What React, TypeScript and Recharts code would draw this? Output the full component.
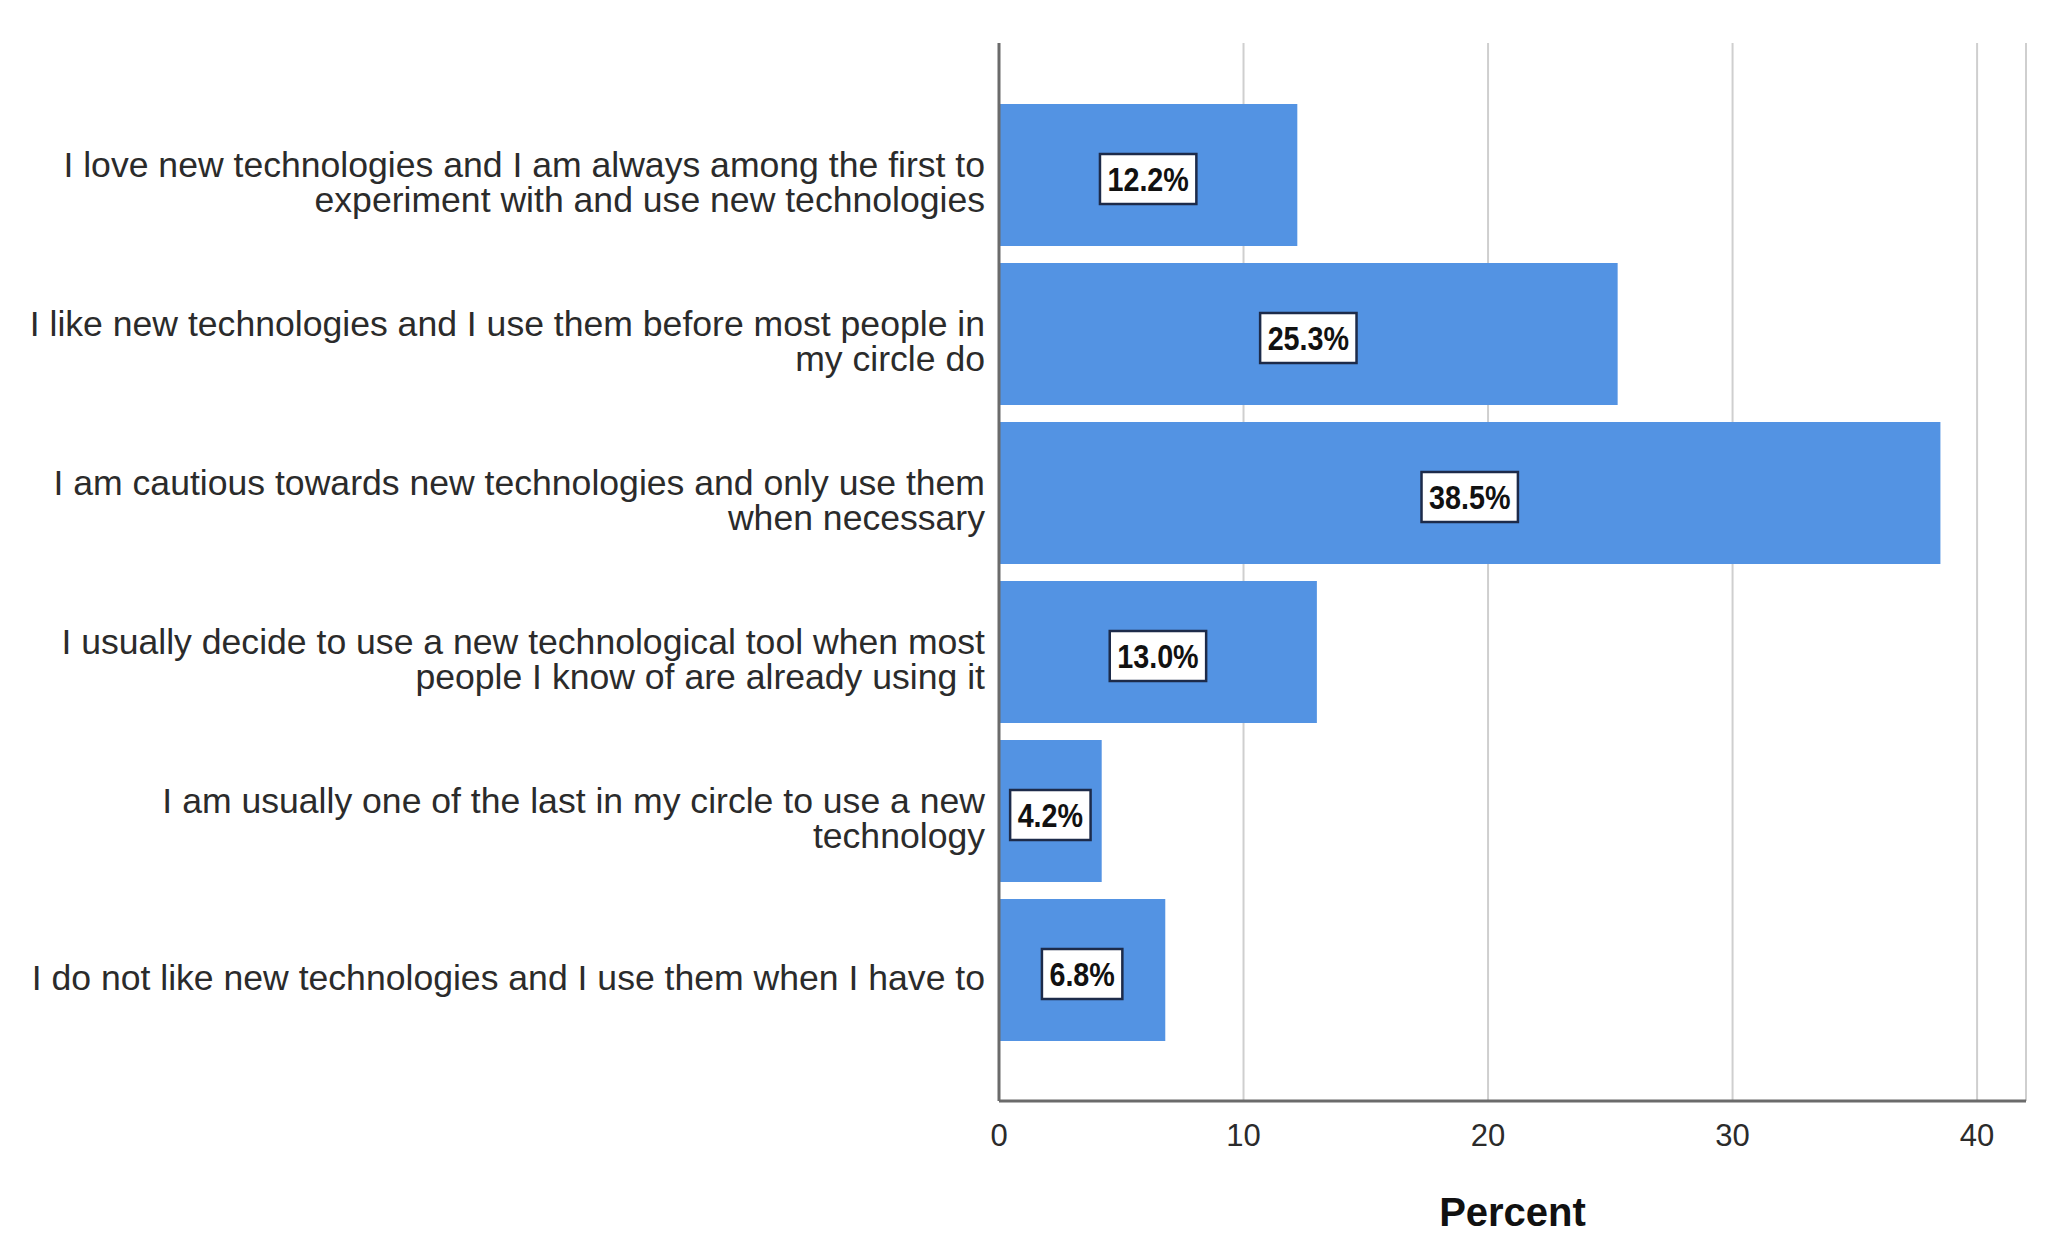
import React from 'react';
import { BarChart, Bar, XAxis, YAxis, CartesianGrid, LabelList } from 'recharts';

// categories, one "\n" per wrapped line as in the original SPSS output
const categories = [
  'I love new technologies and I am always among the first to\nexperiment with and use new technologies',
  'I like new technologies and I use them before most people in\nmy circle do',
  'I am cautious towards new technologies and only use them\nwhen necessary',
  'I usually decide to use a new technological tool when most\npeople I know of are already using it',
  'I am usually one of the last in my circle to use a new\ntechnology',
  'I do not like new technologies and I use them when I have to',
];
const percents = [12.2, 25.3, 38.5, 13.0, 4.2, 6.8];
const xTicks = [0, 10, 20, 30, 40];
const xLabel = 'Percent';

const FONT = '"Liberation Sans", Arial, sans-serif';
const BAR = '#5393E3';

if (typeof document !== 'undefined') document.body.style.margin = '0';

const data = categories.map((label, i) => ({ label, percent: percents[i] }));

// rough Arial Bold advance widths (per em) for the value boxes
const charW = (ch: string) => (ch === '.' ? 0.278 : ch === '%' ? 0.889 : 0.556);

function CategoryTick({ x, y, payload }: any) {
  const lines = String(payload.value).split('\n');
  const lh = 35;
  const y0 = y + 8 - ((lines.length - 1) * lh) / 2;
  return (
    <text x={x - 6} y={y0} textAnchor="end" fill="#2b2b2b" fontSize={35.6} fontFamily={FONT}>
      {lines.map((l, i) => (
        <tspan key={i} x={x - 6} y={y0 + i * lh} dominantBaseline="central">
          {l}
        </tspan>
      ))}
    </text>
  );
}

function PercentTick({ x, y, payload }: any) {
  return (
    <text x={x} y={y + 26} textAnchor="middle" dominantBaseline="central" fill="#2b2b2b" fontSize={31} fontFamily={FONT}>
      {payload.value}
    </text>
  );
}

function ValueBox(props: any) {
  const { x, y, width, height, value } = props;
  const txt = `${Number(value).toFixed(1)}%`;
  const fs = 33;
  const sx = 0.87;
  const tw = txt.split('').reduce((s, c) => s + charW(c), 0) * fs * sx;
  const bw = tw + 15;
  const bh = 50;
  const cx = x + width / 2;
  const cy = y + height / 2 + 4;
  return (
    <g>
      <rect x={cx - bw / 2} y={cy - bh / 2} width={bw} height={bh} fill="#ffffff" stroke="#1d2b4a" strokeWidth={2.5} />
      <text
        transform={`translate(${cx},${cy + 1}) scale(${sx},1)`}
        textAnchor="middle"
        dominantBaseline="central"
        fontSize={fs}
        fontWeight="bold"
        fontFamily={FONT}
        fill="#111"
      >
        {txt}
      </text>
    </g>
  );
}

export default function App() {
  return (
    <div style={{ width: 2056, height: 1257, background: '#fff' }}>
      <BarChart
        width={2056}
        height={1257}
        data={data}
        layout="vertical"
        margin={{ top: 43, right: 30, bottom: 0, left: 0 }}
      >
        <CartesianGrid horizontal={false} stroke="#cfcfcf" strokeWidth={2} />
        <XAxis
          type="number"
          domain={[0, 42]}
          ticks={xTicks}
          tick={<PercentTick />}
          tickLine={false}
          axisLine={{ stroke: '#6b6b6b', strokeWidth: 3 }}
          height={156}
          label={{
            value: xLabel,
            position: 'insideTop',
            offset: 97,
            fontSize: 40,
            fontWeight: 'bold',
            fontFamily: FONT,
            fill: '#111',
          }}
        />
        <YAxis
          type="category"
          dataKey="label"
          width={999}
          tick={<CategoryTick />}
          tickLine={false}
          axisLine={{ stroke: '#6b6b6b', strokeWidth: 3 }}
          padding={{ top: 52, bottom: 52 }}
          interval={0}
        />
        <Bar dataKey="percent" fill={BAR} barSize={142} isAnimationActive={false}>
          <LabelList dataKey="percent" content={<ValueBox />} />
        </Bar>
      </BarChart>
    </div>
  );
}
